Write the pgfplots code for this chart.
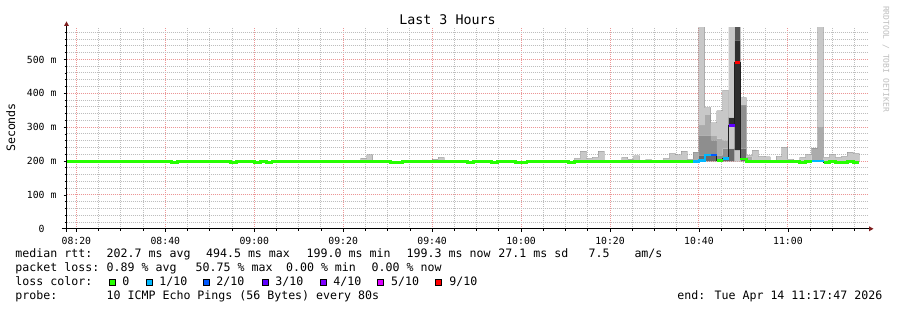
\documentclass[border=0pt]{standalone}
\usepackage{fontspec}
\setmainfont{DejaVu Sans Mono}
\usepackage{pgfplots}
\pgfplotsset{compat=1.18}
\usepackage{pgfplotstable}
\definecolor{lcA}{HTML}{26FF00}
\definecolor{lcB}{HTML}{00B8FF}
\definecolor{lcC}{HTML}{0059FF}
\definecolor{lcD}{HTML}{5E00FF}
\definecolor{lcE}{HTML}{7E00FF}
\definecolor{lcF}{HTML}{DD00FF}
\definecolor{lcG}{HTML}{FF0000}
\definecolor{smD}{HTML}{6A6A6A}
\definecolor{smG}{HTML}{8E8E8E}
\definecolor{smM}{HTML}{ABABAB}
\definecolor{smL}{HTML}{C8C8C8}
\definecolor{smB}{HTML}{2E2E2E}
\definecolor{smK}{HTML}{565656}
\definecolor{arrowred}{HTML}{7F1F1F}
\definecolor{mgrid}{RGB}{236,150,150}
\definecolor{ngrid}{RGB}{190,190,190}
\newcommand\lf{\fontsize{11.6}{13}\selectfont}

\pgfplotstableread{
t base d g m la b k lb
17.333 199 0 0 0 0 0 0 0
84 199 0 0 0 10 0 0 0
85.333 199 0 0 0 19 0 0 0
86.667 199 0 0 0 0 0 0 0
100 199 0 0 0 7 0 0 0
101.333 199 0 0 0 12 0 0 0
102.667 199 0 0 0 0 0 0 0
132 199 0 0 0 9 0 0 0
133.333 199 0 0 0 30 0 0 0
134.667 199 0 0 0 9 0 0 0
136 199 0 0 0 12 0 0 0
137.333 199 0 0 0 30 0 0 0
138.667 199 0 0 0 0 0 0 0
142.667 199 0 0 0 12 0 0 0
144 199 0 0 0 7 0 0 0
145.333 199 0 0 0 16 0 0 0
146.667 199 0 0 0 0 0 0 0
148 199 0 0 0 5 0 0 0
149.333 199 0 0 0 0 0 0 0
152 199 0 0 0 9 0 0 0
153.333 199 0 0 0 24 0 0 0
154.667 199 0 0 0 19 0 0 0
156 199 0 0 0 30 0 0 0
157.333 199 0 0 0 7 0 0 0
158.667 199 0 0 27 0 0 0 0
160 199 18 59 30 294 0 0 0
161.333 199 16 61 62 20 0 0 0
162.667 199 16 46 15 37 0 0 0
164 199 6 12 49 82 0 0 0
165.333 199 6 32 24 148 0 0 0
166.667 199 38 0 0 67 24 0 272
168 199 0 0 0 33 324 44 0
169.333 199 38 128 0 22 0 0 0
170.667 199 0 0 13 5 0 0 0
172 199 0 0 0 33 0 0 0
173.333 199 0 0 0 15 0 0 0
174.667 199 0 0 0 13 0 0 0
176 199 0 0 0 0 0 0 0
177.333 199 0 0 0 15 0 0 0
178.667 199 0 0 0 42 0 0 0
180 199 0 0 0 6 0 0 0
181.333 199 0 0 0 0 0 0 0
182.667 199 0 0 0 12 0 0 0
184 199 0 0 0 21 0 0 0
185.333 199 0 0 39 0 0 0 0
186.667 199 0 0 102 299 0 0 0
188 199 0 0 0 12 0 0 0
189.333 199 0 0 0 21 0 0 0
190.667 199 0 0 0 12 0 0 0
192 199 0 0 0 15 0 0 0
193.333 199 0 0 0 27 0 0 0
194.667 199 0 0 0 24 0 0 0
196 199 0 0 0 0 0 0 0
}\smoke

\pgfplotstableread{
t v
17.333 199
41.333 196
42.667 199
54.667 196
56 199
60 196
61.333 199
62.667 196
64 199
90.667 196
93.333 199
108 196
109.333 199
113.333 196
114.667 199
118.667 196
121.333 199
130.667 196
132 199
158.667 198
160 201
161.333 218
164 202
165.333 207
166.667 306
168 492
169.333 206
170.667 199
182.667 196
184 199
185.333 200
188 196
189.333 199
190.667 196
193.333 199
194.667 196
196 196
}\med

\begin{document}
\begin{tikzpicture}[x=1pt,y=1pt]
\path[use as bounding box, fill=white] (0,0) rectangle (897,310);
\begin{axis}[
  at={(66.5pt,81.2pt)}, anchor=south west,
  scale only axis, width=800.5pt, height=201.2pt,
  xmin=17.783, xmax=197.783, ymin=0, ymax=594,
  axis line style={draw=none},
  tick pos=left, tick align=outside,
  major tick length=3pt, minor tick length=2pt,
  tick style={black, line width=0.8pt},
  xtick={20,40,60,80,100,120,140,160,180},
  xticklabels={08:20,08:40,09:00,09:20,09:40,10:00,10:20,10:40,11:00},
  minor xtick={25,30,35,45,50,55,65,70,75,85,90,95,105,110,115,125,130,135,145,150,155,165,170,175,185,190,195},
  ytick={0,100,200,300,400,500},
  yticklabels={0,100 m,200 m,300 m,400 m,500 m},
  minor ytick={20,40,60,80,120,140,160,180,220,240,260,280,320,340,360,380,420,440,460,480,520,540,560,580},
  grid=both,
  major grid style={mgrid, line width=1pt, dash pattern=on 1pt off 1pt},
  minor grid style={ngrid, line width=1pt, dash pattern=on 1pt off 1pt},
  xticklabel style={font=\fontsize{9.8}{10}\selectfont, anchor=center, inner sep=0pt, yshift=-8.8pt},
  yticklabel style={font=\fontsize{9.8}{10}\selectfont, anchor=center, inner sep=0pt, xshift=-21.8pt},
  clip=true,
]
\addplot[stack plots=y, draw=none, fill=none, const plot mark left] table[x=t,y=base]{\smoke} \closedcycle;
\addplot[stack plots=y, draw=none, fill=smD, const plot mark left] table[x=t,y=d]{\smoke} \closedcycle;
\addplot[stack plots=y, draw=none, fill=smG, const plot mark left] table[x=t,y=g]{\smoke} \closedcycle;
\addplot[stack plots=y, draw=none, fill=smM, const plot mark left] table[x=t,y=m]{\smoke} \closedcycle;
\addplot[stack plots=y, draw=none, fill=smL, const plot mark left] table[x=t,y=la]{\smoke} \closedcycle;
\addplot[stack plots=y, draw=none, fill=smB, const plot mark left] table[x=t,y=b]{\smoke} \closedcycle;
\addplot[stack plots=y, draw=none, fill=smK, const plot mark left] table[x=t,y=k]{\smoke} \closedcycle;
\addplot[stack plots=y, draw=none, fill=smL, const plot mark left] table[x=t,y=lb]{\smoke} \closedcycle;
% thin median line
\addplot[const plot mark left, black!88, line width=1pt] table[x=t,y=v]{\med};
% loss coloured median
\addplot[const plot mark left, lcA, line width=2.8pt] coordinates {(17.333,199)(41.333,196)(42.667,199)(54.667,196)(56,199)(60,196)(61.333,199)(62.667,196)(64,199)(90.667,196)(93.333,199)(108,196)(109.333,199)(113.333,196)(114.667,199)(118.667,196)(121.333,199)(130.667,196)(132,199)(158.667,199)};
\addplot[const plot mark left, lcB, line width=2.8pt] coordinates {(158.667,198)(160,201)(161.333,218)(162.667,218)};
\addplot[const plot mark left, lcC, line width=2.8pt] coordinates {(162.667,218)(164,218)};
\addplot[const plot mark left, lcA, line width=2.8pt] coordinates {(164,202)(165.333,202)};
\addplot[const plot mark left, lcB, line width=2.8pt] coordinates {(165.333,207)(166.667,207)};
\addplot[const plot mark left, lcD, line width=2.8pt] coordinates {(166.667,306)(168,306)};
\addplot[const plot mark left, lcG, line width=2.8pt] coordinates {(168,492)(169.333,492)};
\addplot[const plot mark left, lcA, line width=2.8pt] coordinates {(169.333,206)(170.667,199)(182.667,196)(184,199)(185.333,199)};
\addplot[const plot mark left, lcB, line width=2.8pt] coordinates {(185.333,200)(188,200)};
\addplot[const plot mark left, lcA, line width=2.8pt] coordinates {(188,196)(189.333,199)(190.667,196)(193.333,199)(194.667,196)(196,196)};
\end{axis}
% axis lines and arrows
\draw[black, line width=1pt] (61.7,81.2) -- (869.5,81.2);
\fill[arrowred] (873.5,81.2) -- (869,83.7) -- (869,78.7) -- cycle;
\draw[black, line width=1pt] (66.5,78.2) -- (66.5,284.5);
\fill[arrowred] (66.5,288.5) -- (64,284) -- (69,284) -- cycle;
% title, label, watermark
\node[font=\fontsize{13.3}{14}\selectfont, inner sep=0pt] at (447.5,290.8) {Last 3 Hours};
\node[font=\lf, inner sep=0pt, rotate=90] at (10.8,182.5) {Seconds};
\node[font=\fontsize{8}{9}\selectfont, inner sep=0pt, rotate=-90, text=black!25] at (886,251) {RRDTOOL / TOBI OETIKER};
% legend
\begin{scope}[every node/.style={font=\lf, inner sep=0pt, anchor=base west}]
\node at (15.3,52) {median rtt:};
\node at (106.5,52) {202.7 ms avg};
\node at (205.9,52) {494.5 ms max};
\node at (306.5,52) {199.0 ms min};
\node at (406.5,52) {199.3 ms now};
\node at (498.2,52) {27.1 ms sd};
\node at (588.5,52) {7.5};
\node at (634.3,52) {am/s};
\node at (15.3,38.3) {packet loss:};
\node at (106.5,38.3) {0.89 \% avg};
\node at (195.5,38.3) {50.75 \% max};
\node at (285.9,38.3) {0.00 \% min};
\node at (371.5,38.3) {0.00 \% now};
\node at (15.3,24.7) {loss color:};
\node at (122.2,24.7) {0};
\node at (159.2,24.7) {1/10};
\node at (216.2,24.7) {2/10};
\node at (275.2,24.7) {3/10};
\node at (333.2,24.7) {4/10};
\node at (390.9,24.7) {5/10};
\node at (449.2,24.7) {9/10};
\node at (15.3,10.7) {probe:};
\node at (106.5,10.7) {10 ICMP Echo Pings (56 Bytes) every 80s};
\node at (677.2,10.7) {end: Tue Apr 14 11:17:47 2026};
\end{scope}
\begin{scope}[line width=0.8pt]
\filldraw[fill=lcA, draw=black] (108.9,24.7) rectangle (115.1,30.9);
\filldraw[fill=lcB, draw=black] (145.9,24.7) rectangle (152.1,30.9);
\filldraw[fill=lcC, draw=black] (202.9,24.7) rectangle (209.1,30.9);
\filldraw[fill=lcD, draw=black] (261.9,24.7) rectangle (268.1,30.9);
\filldraw[fill=lcE, draw=black] (320.2,24.7) rectangle (326.4,30.9);
\filldraw[fill=lcF, draw=black] (376.9,24.7) rectangle (383.1,30.9);
\filldraw[fill=lcG, draw=black] (435.2,24.7) rectangle (441.4,30.9);
\end{scope}
\end{tikzpicture}
\end{document}
